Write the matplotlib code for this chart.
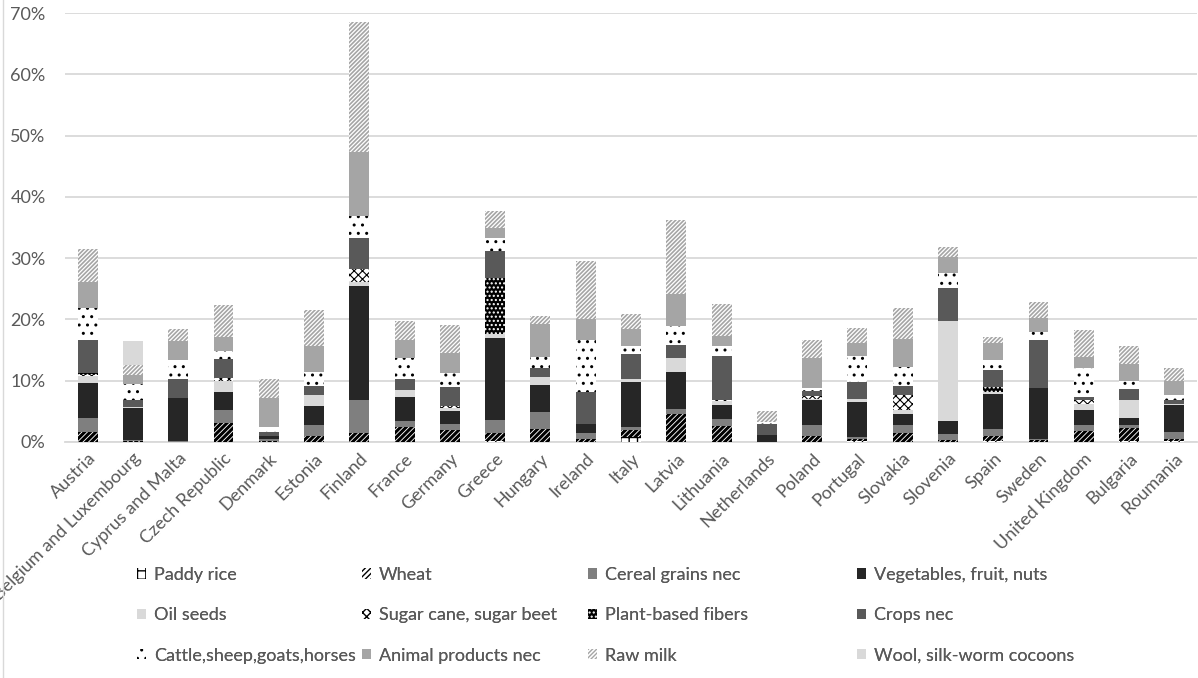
import matplotlib
matplotlib.use('agg')
import matplotlib.pyplot as plt
from matplotlib.lines import Line2D
from matplotlib.ticker import PercentFormatter
import numpy as np

countries = ["Austria", "Belgium and Luxembourg", "Cyprus and Malta", "Czech Republic",
             "Denmark", "Estonia", "Finland", "France", "Germany", "Greece", "Hungary",
             "Ireland", "Italy", "Latvia", "Lithuania", "Netherlands", "Poland", "Portugal",
             "Slovakia", "Slovenia", "Spain", "Sweden", "United Kingdom", "Bulgaria", "Roumania"]

# shares in %, bottom to top
paddy_rice = [0, 0, 0, 0, 0, 0, 0, 0, 0, 0.1, 0, 0, 0.8, 0, 0, 0, 0, 0.2, 0, 0, 0.2, 0, 0, 0.1, 0.1]
wheat = [1.6, 0.1, 0, 3.1, 0.2, 1.0, 1.5, 2.4, 2.0, 1.4, 2.2, 0.5, 1.1, 4.6, 2.6, 0, 1.0, 0.3, 1.5, 0.4, 0.8, 0.3, 1.8, 2.2, 0.4]
cereal_nec = [2.3, 0.2, 0.1, 2.2, 0.3, 1.8, 5.4, 1.0, 1.0, 2.1, 2.7, 1.0, 0.6, 0.8, 1.2, 0, 1.7, 0.3, 1.2, 0.9, 1.1, 0.2, 0.9, 0.4, 1.1]
vegetables = [5.8, 5.2, 7.0, 2.8, 0.5, 3.0, 18.5, 4.0, 2.1, 13.4, 4.4, 1.5, 7.3, 6.1, 2.2, 1.1, 4.1, 5.8, 1.9, 2.2, 5.8, 8.3, 2.6, 1.25, 4.4]
oil_seeds = [1.0, 0.2, 0, 1.8, 0, 1.9, 0.65, 1.1, 0.5, 0.65, 1.25, 0, 0.4, 2.2, 0.7, 0, 0.2, 0.4, 0.7, 16.3, 0.3, 0, 0.9, 2.9, 0.2]
sugar = [0.3, 0, 0, 0.6, 0, 0, 2.1, 0, 0.3, 0, 0, 0, 0, 0, 0.2, 0, 0.5, 0, 2.3, 0, 0, 0, 0.7, 0, 0]
fibers = [0.2, 0, 0, 0, 0, 0, 0, 0, 0, 9.1, 0, 0, 0, 0, 0, 0, 0, 0, 0, 0, 0.8, 0, 0, 0, 0]
crops_nec = [5.5, 1.1, 3.1, 3.1, 0.7, 1.4, 5.1, 1.7, 3.0, 4.4, 1.5, 5.1, 4.1, 2.1, 7.1, 1.8, 0.8, 2.8, 1.6, 5.3, 2.7, 7.8, 0.4, 1.8, 0.65]
cattle = [5.1, 2.6, 3.2, 1.2, 0.7, 2.4, 3.6, 3.5, 2.3, 2.1, 1.8, 8.6, 1.4, 3.1, 1.6, 0.3, 0.5, 4.2, 3.1, 2.4, 1.7, 1.4, 4.7, 1.25, 0.9]
animal_nec = [4.3, 1.6, 3.0, 2.4, 4.8, 4.1, 10.4, 2.9, 3.4, 1.6, 5.4, 3.4, 2.8, 5.3, 1.7, 0, 4.9, 2.2, 4.5, 2.7, 2.7, 2.2, 1.8, 2.8, 2.2]
raw_milk = [5.4, 1.5, 2.0, 5.1, 3.1, 5.9, 21.2, 3.1, 4.5, 2.8, 1.25, 9.4, 2.4, 12.0, 5.2, 1.8, 2.9, 2.4, 5.1, 1.6, 1.1, 2.7, 4.4, 3.0, 2.2]
wool = [0, 3.9, 0, 0, 0, 0, 0, 0, 0, 0, 0, 0, 0, 0, 0, 0, 0, 0, 0, 0, 0, 0, 0, 0, 0]

labels = ["Paddy rice", "Wheat", "Cereal grains nec", "Vegetables, fruit, nuts",
          "Oil seeds", "Sugar cane, sugar beet", "Plant-based fibers", "Crops nec",
          "Cattle,sheep,goats,horses", "Animal products nec", "Raw milk", "Wool, silk-worm cocoons"]
series = [paddy_rice, wheat, cereal_nec, vegetables, oil_seeds, sugar, fibers,
          crops_nec, cattle, animal_nec, raw_milk, wool]

# (face, hatch colour, hatch, hatch linewidth)
styles = [
    ('white', 'black', '++', 1.0),
    ('white', 'black', '//////', 2.2),
    ('#7f7f7f', '#7f7f7f', None, 1.0),
    ('#262626', '#262626', None, 1.0),
    ('#d9d9d9', '#d9d9d9', None, 1.0),
    ('white', 'black', 'xxxx', 0.8),
    ('black', 'white', '....', 1.0),
    ('#595959', '#595959', None, 1.0),
    ('white', 'black', '..', 1.0),
    ('#a5a5a5', '#a5a5a5', None, 1.0),
    ('white', '#a5a5a5', '////////', 1.2),
    ('#d9d9d9', '#d9d9d9', None, 1.0),
]

plt.rcParams['font.family'] = ['Lato', 'DejaVu Sans']
text_col = '#595959'
fs = 13

fig = plt.figure(figsize=(11.98, 6.78), dpi=100)
ax = fig.add_axes([65 / 1198, 1 - 442 / 678, 1132 / 1198, 429 / 678])

x = np.arange(len(countries))
bottom = np.zeros(len(countries))
handles = []
for vals, lab, (fc, hc, hatch, hlw) in zip(series, labels, styles):
    vals = np.array(vals, dtype=float)
    bars = ax.bar(x, vals, 0.44, bottom=bottom, color=fc, edgecolor=hc,
                  hatch=hatch, linewidth=0, label=lab, zorder=3)
    for p in bars.patches:
        if hasattr(p, 'set_hatch_linewidth'):
            p.set_hatch_linewidth(hlw)
    handles.append(bars)
    bottom += vals

ax.set_xlim(-0.5, len(countries) - 0.5)
ax.set_ylim(0, 70)
ax.set_yticks(np.arange(0, 71, 10))
ax.yaxis.set_major_formatter(PercentFormatter(decimals=0))
ax.grid(axis='y', color='#d9d9d9', linewidth=1.3, zorder=0)
for s in ['top', 'right', 'left']:
    ax.spines[s].set_visible(False)
ax.spines['bottom'].set_color('#d9d9d9')
ax.spines['bottom'].set_linewidth(1.3)
ax.tick_params(axis='y', length=0, pad=14, labelsize=fs, labelcolor=text_col)
ax.tick_params(axis='x', length=0, pad=6, labelsize=fs, labelcolor=text_col)
ax.set_xticks(x)
ax.set_xticklabels(countries, rotation=45, ha='right', rotation_mode='anchor')

# legend laid out as 4 columns of 3 rows
col_x = [137, 362, 588, 857]
for c in range(4):
    idx = [r * 4 + c for r in range(3)]
    leg = fig.legend([handles[i] for i in idx], [labels[i] for i in idx],
                     loc='upper left', bbox_to_anchor=(col_x[c] / 1198, 1 - 567 / 678),
                     frameon=False, fontsize=fs, labelcolor=text_col,
                     handlelength=0.5, handleheight=0.5, handletextpad=0.45,
                     labelspacing=1.35, borderpad=0, borderaxespad=0)
    fig.add_artist(leg)

fig.add_artist(Line2D([3 / 1198, 3 / 1198], [0, 1], color='#d9d9d9', linewidth=1,
                      transform=fig.transFigure))

fig.savefig('out.png', dpi=100)
